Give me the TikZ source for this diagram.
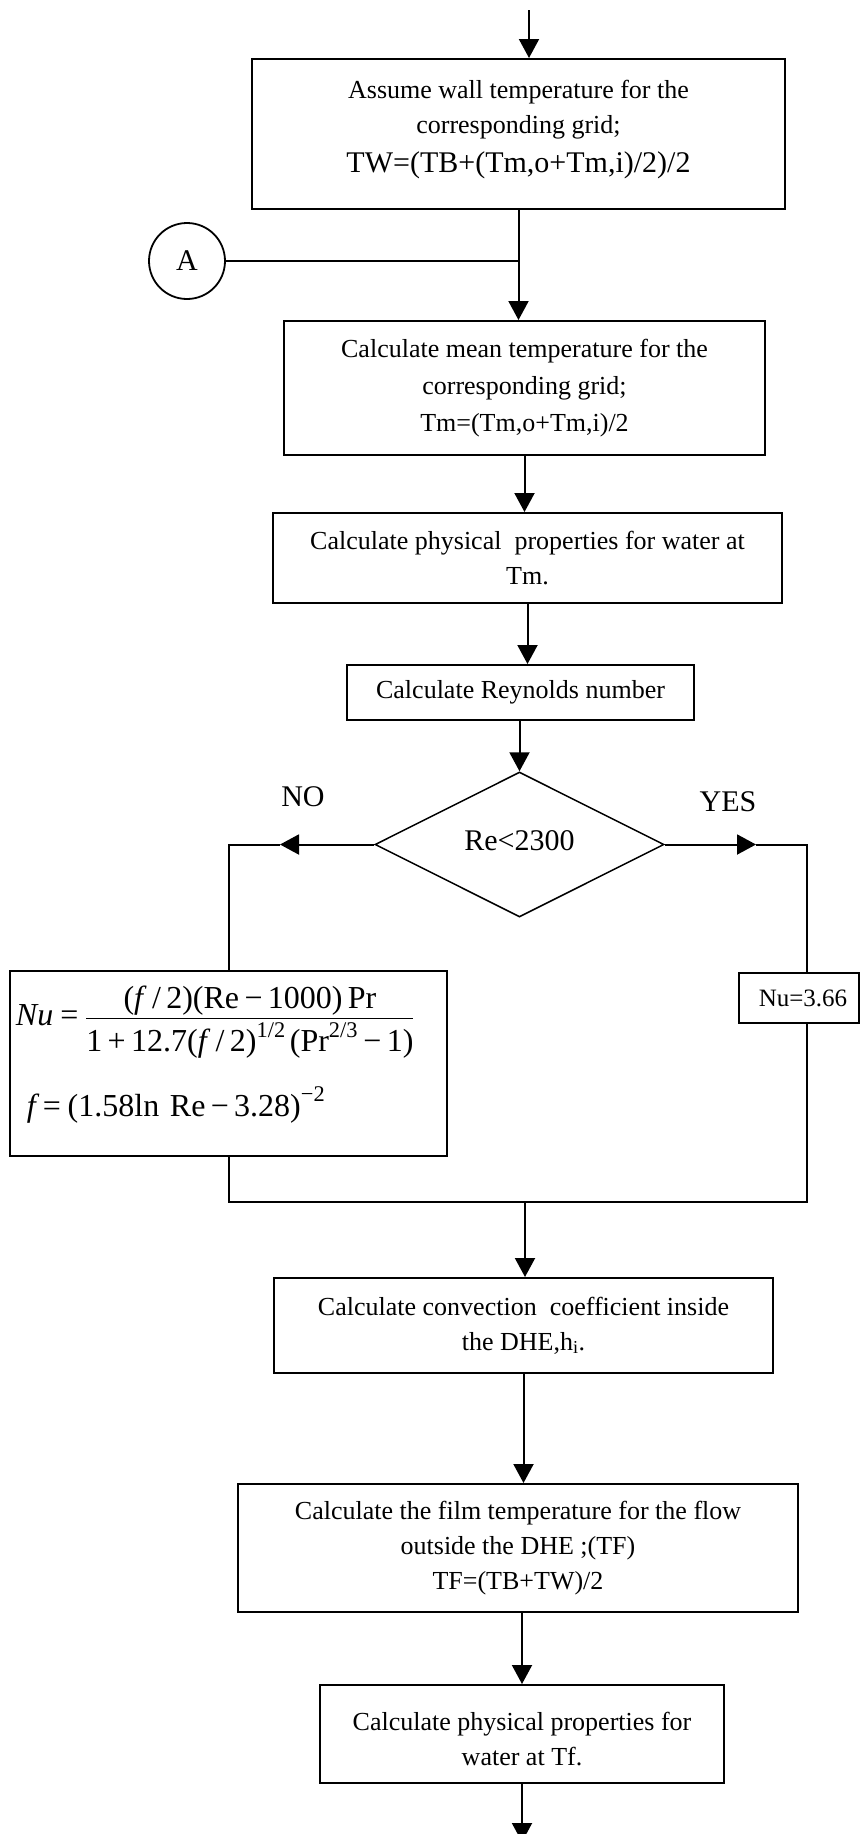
\documentclass[tikz,border=0pt]{standalone}
\usepackage{amsmath}
\usepackage{fontspec}
\setmainfont{Liberation Serif}
\usetikzlibrary{arrows.meta,shapes.geometric}

\begin{document}
\begin{tikzpicture}[x=1pt,y=-1pt,
  box/.style={draw, line width=2pt, inner sep=0pt, align=center,
    font=\fontsize{26}{35}\selectfont},
  decision/.style={draw, diamond, line width=1.5pt, inner sep=0pt,
    font=\fontsize{30}{36}\selectfont},
  conn/.style={draw, circle, line width=1.8pt, inner sep=0pt,
    minimum size=76pt, font=\fontsize{30}{36}\selectfont},
  branch/.style={inner sep=0pt, font=\fontsize{30}{36}\selectfont},
  line/.style={line width=2pt},
  flow/.style={line width=2pt, -{Triangle[length=19pt,width=20pt]}},
]
\useasboundingbox (0,0) rectangle (860,1834);

% process boxes
\node[box, minimum width=533pt, minimum height=150pt] (b1) at (518.5,134)
  {Assume wall temperature for the\\ corresponding grid;\\[4pt]
   {\fontsize{30}{36}\selectfont TW=(TB+(Tm,o+Tm,i)/2)/2\rule[-15pt]{0pt}{0pt}}};
\node[conn] (A) at (187,261) {A};
\node[box, minimum width=481pt, minimum height=134pt,
      font=\fontsize{26}{37}\selectfont] (b2) at (524.5,388)
  {Calculate mean temperature for the\\ corresponding grid;\\ Tm=(Tm,o+Tm,i)/2};
\node[box, minimum width=509pt, minimum height=90pt] (b3) at (527.5,558)
  {Calculate physical\ \ properties for water at\\ Tm.};
\node[box, minimum width=347pt, minimum height=55pt] (b4) at (520.5,692.5)
  {Calculate Reynolds number};

% decision
\node[decision, minimum width=289pt, minimum height=145pt] (dec) at (519.5,844.5)
  {\raisebox{7pt}{Re<2300}};
\node[branch] (no) at (303,797) {NO};
\node[branch] (yes) at (728,802) {YES};

% turbulent correlation
\node[box, minimum width=437pt, minimum height=185pt, text width=425pt, align=left,
      font=\fontsize{32}{91}\selectfont] (b5) at (228.5,1063.5)
  {\noindent\lineskiplimit=-200pt
   $\text{\itshape Nu} \mathrel{\text{=}}
    \dfrac{\text{(\itshape f\/\upshape\,/\,2)(Re\,−\,1000)\,Pr}}
          {\text{1\,+\,12.7(\itshape f\/\upshape\,/\,2)}^{\text{1/2}}\,\text{(Pr}^{\text{2/3}}\text{\,−\,1)}}$\\
   \hspace*{11pt}$\text{\itshape f} \mathrel{\text{=}} \text{(1.58ln Re\,−\,3.28)}^{\text{−2}}$\rule[-25pt]{0pt}{0pt}};

% laminar value
\node[box, minimum width=120pt, minimum height=50pt, font=\fontsize{25}{30}\selectfont] (nu)
  at (799,998) {\hspace*{8pt}Nu=3.66};

\node[box, minimum width=499pt, minimum height=95pt] (b6) at (523.5,1325.5)
  {Calculate convection\ \ coefficient inside\\ the DHE,h\textsubscript{i}.};
\node[box, minimum width=560pt, minimum height=128pt] (b7) at (518,1548)
  {Calculate the film temperature for the flow\\ outside the DHE ;(TF)\\ TF=(TB+TW)/2};
\node[box, minimum width=404pt, minimum height=98pt] (b8) at (522,1734)
  {\rule{0pt}{29pt}Calculate physical properties for\\ water at Tf.};

% helper points
\coordinate (top) at (529,10);
\coordinate (j) at (b1.south |- A.center);
\coordinate (noarr) at (280,844.5);
\coordinate (yesarr) at (756,844.5);
\coordinate (lcorner) at (b5.north |- dec.west);
\coordinate (rcorner) at (807,844.5);
\coordinate (merge) at (525,1202);
\coordinate (bottom) at (522,1842);

% connectors
\draw[flow] (top) -- (top |- b1.north);
\draw[flow] (b1.south) -- (b1.south |- b2.north);
\draw[line] (A) -- (j);
\draw[flow] (b2.south) -- (b2.south |- b3.north);
\draw[flow] (b3.south) -- (b3.south |- b4.north);
\draw[flow] (b4.south -| dec.north) -- (dec.north);
\draw[flow] (dec.west) -- (noarr);
\draw[line] (noarr) -- (lcorner) -- (b5.north);
\draw[flow] (dec.east) -- (yesarr);
\draw[line] (yesarr) -- (rcorner) -- (rcorner |- nu.north);
\draw[line] (b5.south) -- (b5.south |- merge) -- (rcorner |- merge) -- (rcorner |- nu.south);
\draw[flow] (merge) -- (merge |- b6.north);
\draw[flow] (b6.south) -- (b6.south |- b7.north);
\draw[flow] (b7.south -| b8.north) -- (b8.north);
\draw[flow] (b8.south) -- (bottom);
\end{tikzpicture}
\end{document}
